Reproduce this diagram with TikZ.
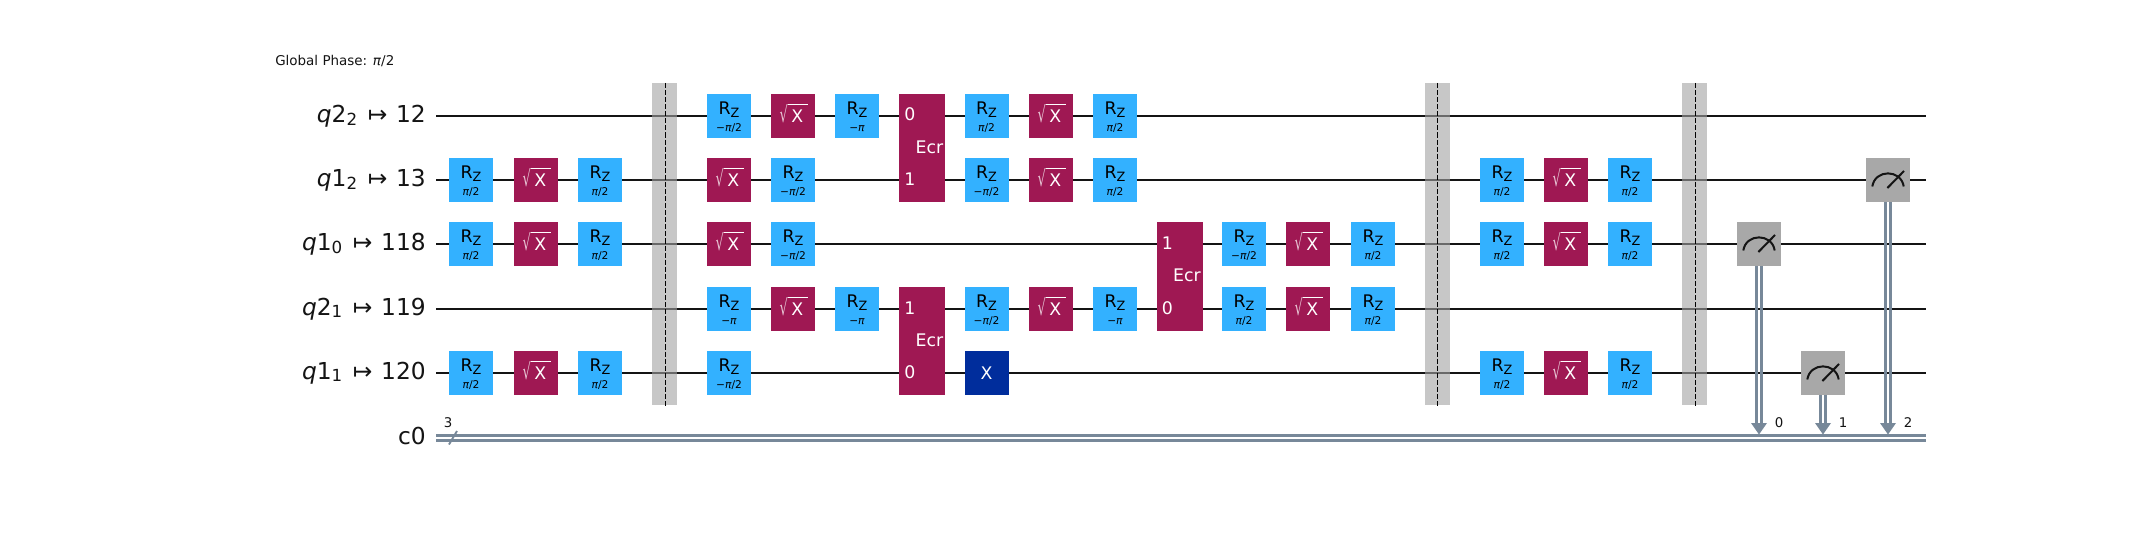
\documentclass[tikz,border=0pt]{standalone}
\usepackage{fontspec}
\usepackage{graphicx}
\setmainfont{DejaVu Sans}
\usetikzlibrary{calc}
\definecolor{rzc}{HTML}{33B1FF}
\definecolor{sxc}{HTML}{9F1853}
\definecolor{xc}{HTML}{002D9C}
\definecolor{mc}{HTML}{A8A8A8}
\definecolor{clc}{HTML}{778899}
\definecolor{bc}{HTML}{A3A3A3}
\newcommand{\fs}[1]{\fontsize{#1}{#1}\selectfont}
\newcommand{\pii}{\textit{π}}
\newcommand{\qlab}[3]{\textit{q}#1\raisebox{-2.2pt}{\fs{12.5pt}#2}\hspace{8pt}↦\hspace{6.5pt}#3}
\tikzset{
  gatebox/.style={rectangle,minimum width=33pt,minimum height=33pt,inner sep=0pt,outer sep=0pt,draw=none},
  rzbox/.style={gatebox,fill=rzc},
  sxbox/.style={gatebox,fill=sxc},
  xbox/.style={gatebox,fill=xc},
  mbox/.style={gatebox,fill=mc},
  ecrbox/.style={rectangle,minimum width=34.5pt,inner sep=0pt,outer sep=0pt,fill=sxc},
  gtext/.style={inner sep=0pt,anchor=base,font=\fs{13pt}},
  ptext/.style={inner sep=0pt,anchor=base,font=\fs{8pt}},
  wire/.style={line width=2pt,black!92},
  clwire/.style={line width=2pt,clc},
  barbox/.style={rectangle,minimum width=18.75pt,minimum height=241.5pt,inner sep=0pt,outer sep=0pt,fill=bc,fill opacity=.6},
  bardash/.style={line width=.9pt,black,dash pattern=on 3.8pt off 1.5pt},
  qtext/.style={inner sep=0pt,anchor=base east,font=\fs{17.5pt},text=black!92},
  smalltext/.style={inner sep=0pt,font=\fs{10pt},text=black!92},
  meter/.style={line width=1.5pt,black!92},
}
% name, x, y, parameter
\newcommand{\rz}[4]{%
  \node[rzbox] (#1) at (#2,#3) {};
  \node[gtext,text=black] (#1t) at (#2,#3-1.7) {R\raisebox{-2.25pt}{\fs{9.6pt}Z}};
  \node[ptext,text=black] (#1p) at (#2,#3+15.7) {#4};
}
\newcommand{\sx}[3]{%
  \node[sxbox] (#1) at (#2,#3) {};
  \node[gtext,text=white] (#1t) at (#2+4.3,#3+6.7) {X};
  \node[inner sep=0pt,anchor=base,font=\fs{14.5pt},text=white!75!sxc] (#1r) at (#2-9.15,#3+6.3) {\scalebox{.67}[1.14]{√}};
  \draw[white,line width=.55pt] (#2-5.3,#3-12) -- (#2+14.7,#3-12);
}
% name, x, top wire y, bottom wire y, top digit, bottom digit
\newcommand{\ecr}[6]{%
  \node[ecrbox,minimum height={(#4-#3+44)*.75pt}] (#1) at (#2,{(#3+#4)/2}) {};
  \node[gtext,text=white] (#1a) at (#2-12,#3+5) {#5};
  \node[gtext,text=white] (#1b) at (#2-12,#4+5) {#6};
  \node[gtext,text=white] (#1c) at (#2+7.5,{(#3+#4)/2+5.3}) {Ecr};
}
\newcommand{\barr}[3]{%
  \node[barbox] (#1) at (#2,244) {};
  \coordinate (#1s) at (#3,83);
  \coordinate (#1e) at (#3,406);
  \draw[bardash] (#1s) -- (#1e);
}
\newcommand{\meas}[3]{%
  \node[mbox] (#1) at (#2,#3) {};
  \draw[meter] (#2-15.7,#3+6.5) .. controls (#2-13,#3-11) and (#2+13,#3-11) .. (#2+15.7,#3+6.5);
  \draw[meter] (#2-.6,#3+8) -- (#2+16,#3-9);
}
\newcommand{\clink}[4]{%
  \coordinate (#1e) at (#2,423);
  \draw[clc,line width=2pt] ([xshift=-1.75pt]#3.south) -- ([xshift=-1.75pt]#1e);
  \draw[clc,line width=2pt] ([xshift=1.75pt]#3.south) -- ([xshift=1.75pt]#1e);
  \fill[clc] (#2-8,423) -- (#2+8,423) -- (#2,434.5) -- cycle;
  \node[smalltext] (#1l) at (#2+20,423) {#4};
}
\begin{document}
\begin{tikzpicture}[x=.75pt,y=-.75pt]
\useasboundingbox (0,0) rectangle (2150,535);
\fill[white] (0,0) rectangle (2150,535);

\node[inner sep=0pt,anchor=base west,font=\fs{10.1pt},text=black!92] (gp) at (275,65) {Global Phase: \pii/2};

% labels
\node[qtext] (l1) at (426,122.5) {\qlab{2}{2}{12}};
\node[qtext] (l2) at (426,186.5) {\qlab{1}{2}{13}};
\node[qtext] (l3) at (426,250.5) {\qlab{1}{0}{118}};
\node[qtext] (l4) at (426,315) {\qlab{2}{1}{119}};
\node[qtext] (l5) at (426,379) {\qlab{1}{1}{120}};
\node[qtext] (l6) at (426,444) {c0};

% wires
\foreach \n/\yy in {a/116,b/180,c/244,d/309,e/373}{
  \coordinate (\n s) at (436,\yy);
  \coordinate (\n e) at (1926,\yy);
  \draw[wire] (\n s) -- (\n e);
}
\coordinate (c1s) at (436,435.5); \coordinate (c1e) at (1926,435.5);
\coordinate (c2s) at (436,440.3); \coordinate (c2e) at (1926,440.3);
\draw[clwire] (c1s) -- (c1e);
\draw[clwire] (c2s) -- (c2e);
\coordinate (sl1) at (449,444.5); \coordinate (sl2) at (457,431);
\draw[clc,line width=1.4pt] (sl1) -- (sl2);
\node[smalltext] (cn) at (448,423) {3};

% first layer
\rz{a1}{471}{180}{\pii/2} \sx{a2}{536}{180} \rz{a3}{600}{180}{\pii/2}
\rz{b1}{471}{244}{\pii/2} \sx{b2}{536}{244} \rz{b3}{600}{244}{\pii/2}
\rz{c1}{471}{373}{\pii/2} \sx{c2}{536}{373} \rz{c3}{600}{373}{\pii/2}

\barr{ba}{664.5}{665.7}

\rz{d1}{729}{116}{−\pii/2} \sx{d2}{793}{116} \rz{d3}{857}{116}{−\pii}
\sx{e1}{729}{180} \rz{e2}{793}{180}{−\pii/2}
\sx{f1}{729}{244} \rz{f2}{793}{244}{−\pii/2}
\rz{g1}{729}{309}{−\pii} \sx{g2}{793}{309} \rz{g3}{857}{309}{−\pii}
\rz{h1}{729}{373}{−\pii/2}

\ecr{ea}{922}{116}{180}{0}{1}
\ecr{eb}{922}{309}{373}{1}{0}

\rz{i1}{986.5}{116}{\pii/2} \sx{i2}{1051}{116} \rz{i3}{1115}{116}{\pii/2}
\rz{j1}{986.5}{180}{−\pii/2} \sx{j2}{1051}{180} \rz{j3}{1115}{180}{\pii/2}
\rz{k1}{986.5}{309}{−\pii/2} \sx{k2}{1051}{309} \rz{k3}{1115}{309}{−\pii}
\node[xbox] (x1) at (986.5,373) {};
\node[gtext,text=white] (x1t) at (986.5,379) {X};

\ecr{ec}{1179.5}{244}{309}{1}{0}

\rz{m1}{1244}{244}{−\pii/2} \sx{m2}{1308}{244} \rz{m3}{1373}{244}{\pii/2}
\rz{n1}{1244}{309}{\pii/2} \sx{n2}{1308}{309} \rz{n3}{1373}{309}{\pii/2}

\barr{bb}{1437.5}{1437.4}

\rz{o1}{1502}{180}{\pii/2} \sx{o2}{1566}{180} \rz{o3}{1630}{180}{\pii/2}
\rz{p1}{1502}{244}{\pii/2} \sx{p2}{1566}{244} \rz{p3}{1630}{244}{\pii/2}
\rz{q1}{1502}{373}{\pii/2} \sx{q2}{1566}{373} \rz{q3}{1630}{373}{\pii/2}

\barr{bc}{1694.5}{1695.7}

\meas{ma}{1759}{244}
\meas{mb}{1823}{373}
\meas{mc}{1888}{180}
\clink{ca}{1759}{ma}{0}
\clink{cb}{1823}{mb}{1}
\clink{cc}{1888}{mc}{2}
\end{tikzpicture}
\end{document}
